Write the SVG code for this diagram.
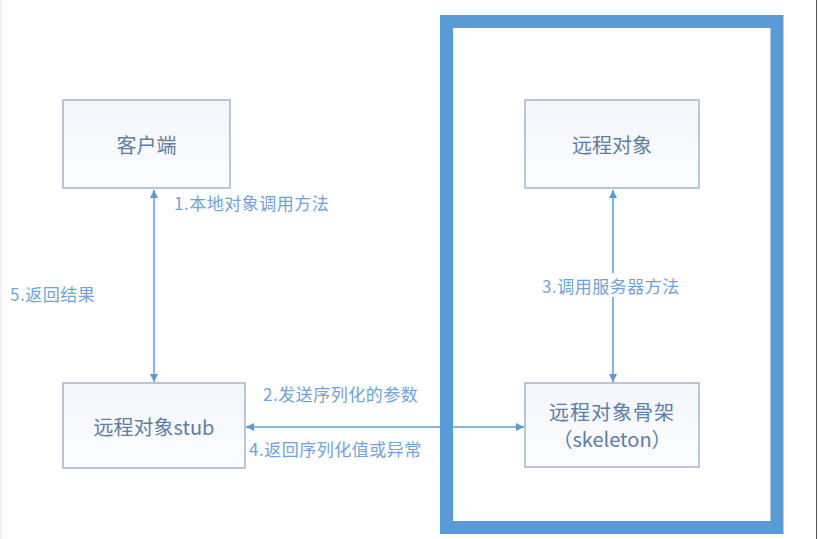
<svg xmlns="http://www.w3.org/2000/svg" width="818" height="539" viewBox="0 0 818 539">
<style>
.box{fill:url(#g);stroke:#a3b6cc;stroke-width:1.5}
.nt{font-family:"Noto Sans CJK SC","Liberation Sans",sans-serif;font-size:20px;fill:#5d7ea5;text-anchor:middle;dominant-baseline:central}
.lb{font-family:"Noto Sans CJK SC","Liberation Sans",sans-serif;font-size:17px;letter-spacing:0.5px;fill:#6fa3da;dominant-baseline:central}
.ln{stroke:#5b9bd5;stroke-width:1.5;fill:none}
</style>
<defs>
<linearGradient id="g" x1="0" y1="0" x2="0" y2="1">
<stop offset="0" stop-color="#f3f6fb"/>
<stop offset="1" stop-color="#fbfcfe"/>
</linearGradient>
<marker id="a" viewBox="0 0 10 10" refX="10" refY="5" markerWidth="8" markerHeight="8" orient="auto-start-reverse" markerUnits="userSpaceOnUse">
<path d="M0,0 L10,5 L0,10 z" fill="#5b9bd5"/>
</marker>
</defs>
<rect width="818" height="539" fill="#ffffff"/>
<line x1="1" y1="0" x2="1" y2="539" stroke="#e4e4e4" stroke-width="1"/>
<line x1="816.5" y1="0" x2="816.5" y2="539" stroke="#555" stroke-width="1"/>
<g id="connectors">
<line class="ln" x1="154" y1="190" x2="154" y2="382" marker-start="url(#a)" marker-end="url(#a)"/>
<line class="ln" x1="613" y1="190" x2="613" y2="382" marker-start="url(#a)" marker-end="url(#a)"/>
<line class="ln" x1="246" y1="427" x2="524" y2="427" marker-start="url(#a)" marker-end="url(#a)"/>
</g>
<g id="frame"><rect x="446.5" y="21.5" width="330.5" height="506" fill="none" stroke="#5b9bd5" stroke-width="13"/></g>
<g id="client"><rect class="box" x="63" y="100" width="167" height="88"/><text class="nt" x="146.5" y="144">客户端</text></g>
<g id="stub"><rect class="box" x="63" y="383" width="182" height="85"/><text class="nt" x="154" y="426">远程对象stub</text></g>
<g id="remote"><rect class="box" x="525" y="100" width="174" height="88"/><text class="nt" x="612" y="144">远程对象</text></g>
<g id="skeleton"><rect class="box" x="525" y="383" width="174" height="84"/><text class="nt" x="612" y="411" letter-spacing="1">远程对象骨架</text><text class="nt" x="612" y="438">（skeleton）</text></g>
<g id="labels">
<text class="lb" x="174" y="202">1.本地对象调用方法</text>
<text class="lb" x="10" y="293">5.返回结果</text>
<text class="lb" x="263" y="393">2.发送序列化的参数</text>
<text class="lb" x="249" y="448">4.返回序列化值或异常</text>
<rect x="538" y="273" width="150" height="24" fill="#ffffff"/>
<text class="lb" x="542" y="285">3.调用服务器方法</text>
</g>
</svg>
